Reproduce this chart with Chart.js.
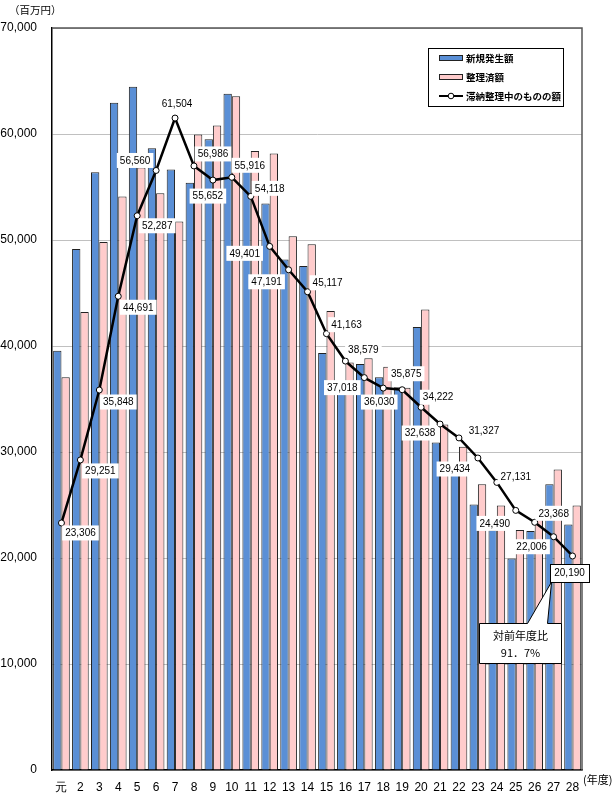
<!DOCTYPE html>
<html lang="ja">
<head>
<meta charset="UTF-8">
<title>滞納額の推移</title>
<script src="https://cdn.jsdelivr.net/npm/chart.js"></script>
<style>
  html, body { margin: 0; padding: 0; background: #fff; }
  #wrap { width: 615px; height: 795px; }
</style>
</head>
<body>
<div id="wrap"><canvas id="chart" width="615" height="795"></canvas></div>
<script>
// 年度 (平成)
const years = ['元', '2', '3', '4', '5', '6', '7', '8', '9', '10', '11', '12', '13', '14',
  '15', '16', '17', '18', '19', '20', '21', '22', '23', '24', '25', '26', '27', '28'];

// 新規発生額 (百万円)
const newAmounts = [39550, 49150, 56400, 62950, 64450, 58650, 56650, 55400, 59500, 63800,
  56600, 53450, 48150, 47550, 39350, 35950, 38300, 37050, 36100, 41800,
  30900, 29000, 25050, 22650, 19950, 22550, 26950, 23150];

// 整理済額 (百万円)
const settledAmounts = [37050, 43200, 49800, 54100, 56850, 54400, 51750, 59950, 60800, 63550,
  58400, 58150, 50350, 49600, 43300, 38450, 38850, 38050, 36050, 43450,
  32600, 30500, 26950, 24950, 22650, 23650, 28350, 24950];

// 滞納整理中のものの額 (百万円) - labelled values
const pendingAmounts = [23306, 29251, 35848, 44691, 52287, 56560, 61504, 56986, 55652, 55916,
  54118, 49401, 47191, 45117, 41163, 38579, 37018, 36030, 35875, 34222,
  32638, 31327, 29434, 27131, 24490, 23368, 22006, 20190];

const yTicks = [0, 10000, 20000, 30000, 40000, 50000, 60000, 70000];

// where each value label sits relative to its point (px)
const labelOffsets = [
  [19, 10], [20, 11], [19, 12], [20, 11], [20, 10], [-21, -10], [2, -14], [19, -12],
  [-5, 16], [18, -12], [19, -8], [-25, 7], [-22, 12], [20, -9], [20, -9], [18, -11],
  [-22, 10], [-4, 14], [4, -16], [17, -10], [-20, 9], [25, -7], [-23, 11], [19, -6],
  [-21, 13], [19, -9], [-22, 10], [-3, 17]
];

const BLUE = '#5a8fd6';
const PINK = '#ffcccc';
const NUM_FONT = '"Liberation Sans", Arial, sans-serif';
const JP_FONT = '"Noto Sans CJK JP", sans-serif';

const fmt = v => v.toLocaleString('en-US');

const extras = {
  id: 'extras',
  beforeDatasetsDraw(chart) {
    const { ctx, chartArea: a } = chart;
    ctx.save();
    ctx.strokeStyle = '#555';
    ctx.lineWidth = 1.5;
    ctx.beginPath();
    ctx.moveTo(a.left, a.top);
    ctx.lineTo(a.right, a.top);
    ctx.lineTo(a.right, a.bottom);
    ctx.stroke();
    ctx.restore();
  },
  afterDatasetsDraw(chart) {
    const { ctx } = chart;
    const meta = chart.getDatasetMeta(0);
    ctx.save();
    ctx.font = '10px ' + NUM_FONT;
    ctx.textAlign = 'center';
    ctx.textBaseline = 'middle';
    meta.data.forEach((pt, i) => {
      const txt = fmt(pendingAmounts[i]);
      const cx = pt.x + labelOffsets[i][0];
      const cy = pt.y + labelOffsets[i][1];
      const w = ctx.measureText(txt).width + 6;
      const h = 15;
      const last = i === pendingAmounts.length - 1;
      const bw = last ? w + 2 : w;
      const bh = last ? h + 3 : h;
      ctx.fillStyle = '#fff';
      ctx.fillRect(cx - bw / 2, cy - bh / 2, bw, bh);
      if (last) {
        ctx.strokeStyle = '#000';
        ctx.lineWidth = 1;
        ctx.strokeRect(Math.round(cx - bw / 2) + 0.5, Math.round(cy - bh / 2) + 0.5, Math.round(bw), Math.round(bh));
      }
      ctx.fillStyle = '#000';
      ctx.fillText(txt, cx, cy + 0.5);
    });

    // callout for the last year
    const lp = meta.data[meta.data.length - 1];
    const off = labelOffsets[labelOffsets.length - 1];
    const tipX = lp.x + off[0] - 18, tipY = lp.y + off[1] + 9;
    const bx = 479.5, by = 623.5, bwid = 82, bht = 40;
    ctx.fillStyle = '#fff';
    ctx.strokeStyle = '#000';
    ctx.lineWidth = 1;
    ctx.beginPath();
    ctx.moveTo(bx, by);
    ctx.lineTo(bx + 48, by);
    ctx.lineTo(tipX, tipY);
    ctx.lineTo(bx + 68, by);
    ctx.lineTo(bx + bwid, by);
    ctx.lineTo(bx + bwid, by + bht);
    ctx.lineTo(bx, by + bht);
    ctx.closePath();
    ctx.fill();
    ctx.stroke();
    ctx.fillStyle = '#000';
    ctx.font = '11px ' + JP_FONT;
    ctx.fillText('対前年度比', bx + bwid / 2, by + 12);
    ctx.fillText('91．7%', bx + bwid / 2, by + 29);
    ctx.restore();
  },
  afterDraw(chart) {
    const { ctx, chartArea: a } = chart;
    ctx.save();
    ctx.fillStyle = '#000';
    ctx.textBaseline = 'middle';
    ctx.font = '10.5px ' + JP_FONT;
    ctx.textAlign = 'left';
    ctx.fillText('（百万円）', 9, 10);
    ctx.font = '11px ' + JP_FONT;
    ctx.fillText('(年度)', a.right + 1, 780);

    // legend box
    const lx = 428.5, ly = 48.5, lw = 135, lh = 58;
    ctx.fillStyle = '#fff';
    ctx.fillRect(lx, ly, lw, lh);
    ctx.strokeStyle = '#000';
    ctx.lineWidth = 1;
    ctx.strokeRect(lx, ly, lw, lh);
    const rows = [
      { label: '新規発生額', color: BLUE, y: 58 },
      { label: '整理済額', color: PINK, y: 77 },
      { label: '滞納整理中のものの額', y: 96 }
    ];
    ctx.font = 'bold 9.5px ' + JP_FONT;
    rows.forEach(r => {
      if (r.color) {
        ctx.fillStyle = r.color;
        ctx.fillRect(439.5, r.y - 2, 23, 4);
        ctx.strokeStyle = '#222';
        ctx.lineWidth = 1;
        ctx.strokeRect(439.5, r.y - 2.5, 23, 5);
      } else {
        ctx.strokeStyle = '#000';
        ctx.lineWidth = 2;
        ctx.beginPath();
        ctx.moveTo(439, r.y);
        ctx.lineTo(463, r.y);
        ctx.stroke();
        ctx.fillStyle = '#fff';
        ctx.lineWidth = 1;
        ctx.beginPath();
        ctx.arc(451, r.y, 2.8, 0, Math.PI * 2);
        ctx.fill();
        ctx.stroke();
      }
      ctx.fillStyle = '#000';
      ctx.fillText(r.label, 466, r.y + 0.5);
    });
    ctx.restore();
  }
};

new Chart(document.getElementById('chart'), {
  type: 'bar',
  data: {
    labels: years,
    datasets: [
      {
        type: 'line',
        label: '滞納整理中のものの額',
        data: pendingAmounts,
        borderColor: '#000',
        borderWidth: 2.5,
        pointRadius: 3,
        pointBackgroundColor: '#fff',
        pointBorderColor: '#000',
        pointBorderWidth: 1,
        tension: 0,
        order: 0
      },
      {
        label: '新規発生額',
        data: newAmounts,
        backgroundColor: BLUE,
        borderColor: '#222',
        borderWidth: 1,
        categoryPercentage: 0.88,
        barPercentage: 1.0,
        order: 1
      },
      {
        label: '整理済額',
        data: settledAmounts,
        backgroundColor: PINK,
        borderColor: '#222',
        borderWidth: 1,
        categoryPercentage: 0.88,
        barPercentage: 1.0,
        order: 2
      }
    ]
  },
  options: {
    responsive: false,
    animation: false,
    layout: { padding: { top: 28, right: 33, left: 0, bottom: 0 } },
    plugins: {
      legend: { display: false },
      tooltip: { enabled: false }
    },
    scales: {
      x: {
        grid: { display: false },
        border: { color: '#000', width: 1.5 },
        ticks: {
          color: '#000',
          font: { family: NUM_FONT, size: 12 },
          padding: 2,
          maxRotation: 0,
          autoSkip: false
        },
        afterFit(scale) { scale.height = 25; }
      },
      y: {
        min: 0,
        max: 70000,
        afterBuildTicks(scale) { scale.ticks = yTicks.map(v => ({ value: v })); },
        grid: { color: '#c0c0c0', lineWidth: 1, drawTicks: false },
        border: { color: '#000', width: 1.5 },
        ticks: {
          color: '#000',
          font: { family: NUM_FONT, size: 12 },
          padding: 15,
          callback: v => fmt(v)
        },
        afterFit(scale) { scale.width = 52; }
      }
    }
  },
  plugins: [extras]
});
</script>
</body>
</html>
